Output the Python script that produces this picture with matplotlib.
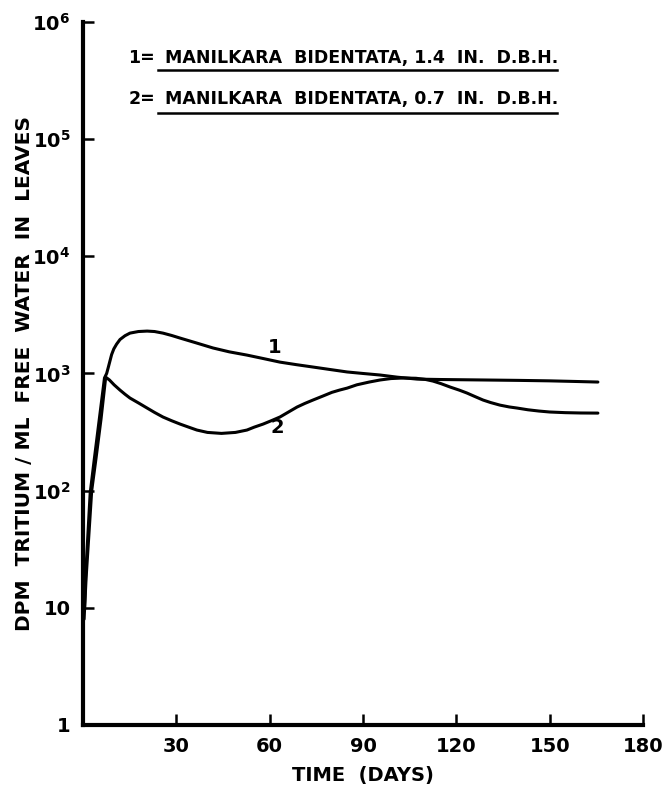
import matplotlib.pyplot as plt
import matplotlib.ticker as mticker

# tritium in leaf free water, log scale readings
days_1 = [0.5, 0.9, 2.3, 3.6, 5.2, 6.9, 7.6, 8.1, 8.6, 9.2, 9.9, 10.8, 11.9,
          13.5, 15.1, 17.8, 20.6, 23.0, 25.7, 28.5, 31.2, 36.5, 41.8, 47.0,
          52.7, 58.0, 63.3, 68.5, 73.9, 79.5, 84.9, 90.0, 95.5, 101.0, 107.4,
          115.0, 128.6, 140.0, 150.0, 158.0, 165.5]
dpm_1 = [10, 20, 95, 183, 400, 915, 1000, 1120, 1260, 1450, 1620, 1780, 1950,
         2100, 2210, 2280, 2300, 2280, 2210, 2110, 2005, 1820, 1650, 1530,
         1435, 1340, 1250, 1190, 1135, 1080, 1030, 1000, 970, 930, 895,
         888, 880, 873, 865, 855, 845]

days_2 = [0.35, 1.0, 2.8, 4.2, 5.8, 7.3, 8.5, 10.0, 11.9, 13.5, 15.1, 18.0,
          20.6, 23.0, 25.7, 28.5, 31.2, 34.0, 36.6, 40.0, 44.5, 49.0, 52.7,
          55.0, 57.9, 60.5, 63.3, 66.0, 68.8, 71.3, 73.9, 77.0, 80.0, 82.5,
          84.9, 88.0, 92.0, 95.5, 99.0, 103.0, 107.0, 110.0, 112.5, 115.0,
          118.0, 121.0, 123.4, 126.0, 128.6, 131.0, 134.0, 137.0, 139.5,
          143.0, 146.5, 150.0, 155.0, 160.0, 165.5]
dpm_2 = [8, 18, 100, 190, 410, 930, 880, 800, 721, 665, 617, 557,
         507, 465, 425, 395, 370, 348, 329, 314, 308, 314, 329,
         348, 370, 395, 425, 468, 517, 555, 593, 640, 690, 722,
         750, 800, 845, 880, 905, 915, 910, 890, 861, 820,
         766, 720, 681, 635, 593, 565, 537, 518, 507,
         490, 478, 469, 463, 460, 459]

x_ticks = [30, 60, 90, 120, 150, 180]
y_ticks = [1, 10, 100, 1e3, 1e4, 1e5, 1e6]
y_tick_labels = ["1", "10", r"$\mathbf{10^2}$", r"$\mathbf{10^3}$",
                 r"$\mathbf{10^4}$", r"$\mathbf{10^5}$", r"$\mathbf{10^6}$"]

legend_lines = ["MANILKARA  BIDENTATA, 1.4  IN.  D.B.H.",
                "MANILKARA  BIDENTATA, 0.7  IN.  D.B.H."]
legend_keys = ["1=", "2="]

plt.rcParams["font.family"] = ["DejaVu Sans"]
plt.rcParams["font.weight"] = "bold"
plt.rcParams["axes.labelweight"] = "bold"

fig = plt.figure(figsize=(6.64, 7.90), dpi=100)
ax = fig.add_axes([0.125, 0.0823, 0.8434, 0.8899])

ax.plot(days_1, dpm_1, color="black", lw=2.2, solid_capstyle="round",
        solid_joinstyle="round")
ax.plot(days_2, dpm_2, color="black", lw=2.2, solid_capstyle="round",
        solid_joinstyle="round")

ax.set_yscale("log")
ax.set_xlim(0, 180)
ax.set_ylim(1, 1e6)

for side in ["top", "right"]:
    ax.spines[side].set_visible(False)
for side in ["left", "bottom"]:
    ax.spines[side].set_linewidth(3)

ax.set_xticks(x_ticks)
ax.set_xticklabels([str(t) for t in x_ticks])
ax.set_yticks(y_ticks)
ax.set_yticklabels(y_tick_labels)
ax.yaxis.set_minor_locator(mticker.NullLocator())
ax.tick_params(axis="both", direction="in", length=8, width=1.8, labelsize=14, pad=9)

ax.set_xlabel("TIME  (DAYS)", fontsize=14)
ax.set_ylabel("DPM  TRITIUM / ML  FREE  WATER  IN  LEAVES", fontsize=14.5)
ax.xaxis.set_label_coords(0.5, -0.058)
ax.yaxis.set_label_coords(-0.088, 0.5)

# curve numbers
ax.text(61.5, 1650, "1", fontsize=14, ha="center", va="center")
ax.text(62.4, 345, "2", fontsize=14, ha="center", va="center")

# key at the top with underlines
key_y = [0.9266, 0.8747]
line_y = [0.9114, 0.857]
for key, label, ty, ly in zip(legend_keys, legend_lines, key_y, line_y):
    fig.text(0.193, ty, key, fontsize=12.5, ha="left", va="center")
    fig.text(0.248, ty, label, fontsize=12.5, ha="left", va="center")
    fig.add_artist(plt.Line2D([0.238, 0.839], [ly, ly], color="black", lw=1.8,
                              transform=fig.transFigure))

fig.savefig("out.png", dpi=100)
